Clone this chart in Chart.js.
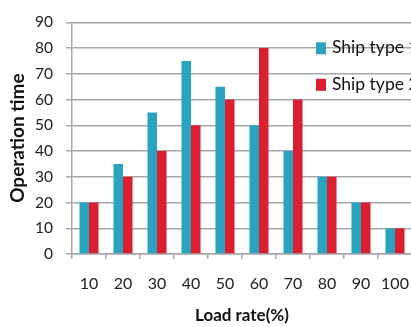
<!DOCTYPE html>
<html>
<head>
<meta charset="utf-8">
<script src="https://cdn.jsdelivr.net/npm/chart.js@4"></script>
<style>
html,body{margin:0;padding:0;background:#fff;overflow:hidden;}
#wrap{position:relative;width:440px;height:327px;}
</style>
</head>
<body>
<div id="wrap"><canvas id="c" width="440" height="327"></canvas></div>
<script>
const categories = ['10','20','30','40','50','60','70','80','90','100'];
const shipType1 = [20,35,55,75,65,50,40,30,20,10];
const shipType2 = [20,30,40,50,60,80,60,30,20,10];
const seriesNames = ['Ship type 1','Ship type 2'];
const seriesColors = ['#2aa3c0','#dc1f2e'];
const yTicks = [0,10,20,30,40,50,60,70,80,90];

const FONT = 'Lato, "Open Sans", sans-serif';

const insideLegend = {
  id: 'insideLegend',
  afterDraw(chart) {
    const ctx = chart.ctx;
    const a = chart.chartArea;
    ctx.save();
    chart.data.datasets.forEach((ds, i) => {
      const x = a.left + 244;
      const y = a.top + 20 + i * 36.5;
      ctx.fillStyle = ds.backgroundColor;
      ctx.fillRect(x, y, 10, 12);
      ctx.fillStyle = '#111';
      ctx.font = '17.5px ' + FONT;
      ctx.textBaseline = 'middle';
      ctx.textAlign = 'left';
      ctx.fillText(ds.label, x + 16, y + 5.5);
    });
    ctx.restore();
  }
};

new Chart(document.getElementById('c'), {
  type: 'bar',
  data: {
    labels: categories,
    datasets: [
      {label: seriesNames[0], data: shipType1, backgroundColor: seriesColors[0]},
      {label: seriesNames[1], data: shipType2, backgroundColor: seriesColors[1]}
    ]
  },
  options: {
    responsive: false,
    animation: false,
    devicePixelRatio: 1,
    layout: {padding: {top: 19, right: 28, bottom: 0, left: 0}},
    datasets: {bar: {categoryPercentage: 0.56, barPercentage: 1.0}},
    plugins: {legend: {display: false}, tooltip: {enabled: false}},
    scales: {
      x: {
        grid: {drawOnChartArea: false, drawTicks: true, tickLength: 5, color: '#a8a8a8', lineWidth: 1.5},
        border: {display: true, color: '#a8a8a8', width: 1.5},
        ticks: {font: {family: FONT, size: 16}, color: '#222', padding: 15, maxRotation: 0},
        title: {display: true, text: 'Load rate(%)', font: {family: FONT, size: 17, weight: 'bold'}, color: '#111', padding: {top: 0, bottom: 1}},
        afterFit(s) { s.height = 73; }
      },
      y: {
        min: 0, max: 90,
        afterBuildTicks(s) { s.ticks = yTicks.map(v => ({value: v})); },
        grid: {color: '#a8a8a8', lineWidth: 1.5, tickLength: 6},
        border: {display: true, color: '#a8a8a8', width: 1.5},
        ticks: {font: {family: FONT, size: 15.5}, color: '#222', padding: 13},
        title: {display: true, text: 'Operation time', font: {family: FONT, size: 19, weight: 'bold'}, color: '#111', padding: {top: 6, bottom: 0}},
        afterFit(s) { s.width = 72; }
      }
    }
  },
  plugins: [insideLegend]
});
</script>
</body>
</html>
